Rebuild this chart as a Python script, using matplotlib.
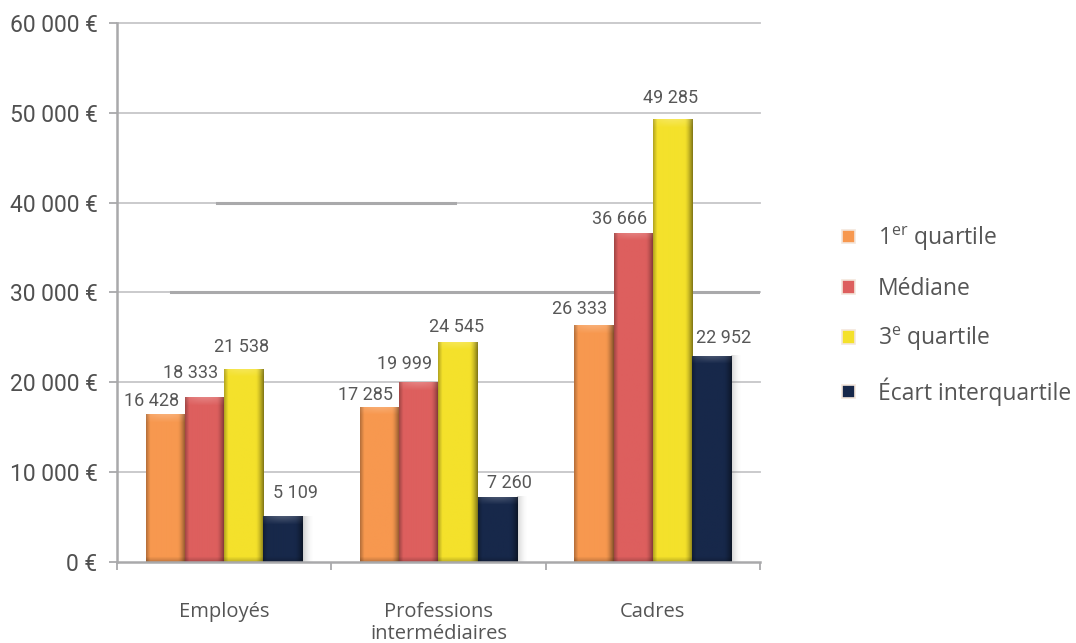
import numpy as np
import matplotlib
matplotlib.use("Agg")
import matplotlib.pyplot as plt
from matplotlib.patches import Rectangle
from matplotlib.colors import to_rgb

plt.rcParams['font.family'] = ['Roboto', 'DejaVu Sans']
plt.rcParams['mathtext.default'] = 'regular'

# ----------- DONNÉES -----------

categories = ["Employés", "Professions\nintermédiaires", "Cadres"]
series = ["1$^{er}$ quartile", "Médiane", "3$^{e}$ quartile", "Écart interquartile"]
premier_quartile = [16428, 17285, 26333]
mediane = [18333, 19999, 36666]
troisieme_quartile = [21538, 24545, 49285]
ecart_interquartile = [5109, 7260, 22952]
y_ticks = [0, 10000, 20000, 30000, 40000, 50000, 60000]

couleurs = ["#F7984F", "#DD5F5E", "#F4E12B", "#17284A"]

# décalage des étiquettes (px) : horizontal par série, vertical par barre
label_dx = [-14, -14, -2, 12]
label_dy = [[13, 12, 16], [24, 18, 14], [22, 15, 21], [23, 14, 18]]

valeurs = [premier_quartile, mediane, troisieme_quartile, ecart_interquartile]


def fmt(v):
    return f"{v:,.0f}".replace(",", " ")


def relief(ax, patch, couleur):
    """Dégradé en relief plaqué sur une barre."""
    x0, y0 = patch.get_x(), patch.get_y()
    w, h = patch.get_width(), patch.get_height()
    p0 = ax.transData.transform((x0, y0))
    p1 = ax.transData.transform((x0 + w, y0 + h))
    nx = max(int(round(p1[0] - p0[0])), 2)
    ny = max(int(round(p1[1] - p0[1])), 2)
    u = np.linspace(0, 1, nx)
    # bords gauche / droit assombris
    horiz = 1 - 0.25 * np.clip((0.10 - u) / 0.10, 0, 1) - 0.45 * np.clip((u - 0.80) / 0.20, 0, 1) ** 1.5
    rows = np.arange(ny)
    # biseau en haut, léger assombrissement en bas
    haut = np.clip((8 - rows) / 8, 0, 1)
    bas = np.clip((rows - (ny - 6)) / 6, 0, 1)
    base = np.array(to_rgb(couleur))
    img = base[None, None, :] * horiz[None, :, None]
    img = img * (1 - 0.25 * bas[:, None, None])
    img = img + (1 - img) * (0.22 * haut[:, None, None]) * (0.4 + 0.6 * np.sin(np.pi * u)[None, :, None])
    im = ax.imshow(np.clip(img, 0, 1), extent=(x0, x0 + w, y0, y0 + h), origin='upper',
                   aspect='auto', interpolation='bilinear', zorder=3)
    im.set_clip_path(patch)


def ombre(ax, x0, hauteur):
    """Ombre douce à droite d'un groupe de barres."""
    p = ax.transData.transform((x0, 0))
    largeur = ax.transData.inverted().transform((p[0] + 12, 0))[0] - x0
    u = np.linspace(0, 1, 32)
    rgba = np.zeros((2, 32, 4))
    rgba[..., :3] = 0.35
    rgba[..., 3] = 0.28 * (1 - u) ** 2
    ax.imshow(rgba, extent=(x0, x0 + largeur, 0, hauteur), aspect='auto', zorder=1.5,
              interpolation='bilinear')


# ----------- FIGURE -----------

fig = plt.figure(figsize=(10.76, 6.43), dpi=100)
ax = fig.add_axes([117 / 1076, 1 - 562 / 643, 643 / 1076, 539 / 643])
ax.set_xlim(-0.5, 2.5)
ax.set_ylim(0, 60000)

x = np.arange(len(categories))
largeur = 0.183
gris = "#a9a9ab"

for y in y_ticks[1:]:
    ax.axhline(y, color="#c6c6c8", lw=1.3, zorder=1, clip_on=False)
# segments plus marqués sur certaines lignes
ax.axhline(40000, xmin=(217 - 117) / 643, xmax=(455 - 117) / 643, color=gris, lw=2.2, zorder=1.2)
ax.axhline(30000, xmin=(171 - 117) / 643, xmax=1, color=gris, lw=2.2, zorder=1.2)

handles = []
for i, (vals, c) in enumerate(zip(valeurs, couleurs)):
    pos = x + (i - 1.5) * largeur
    bars = ax.bar(pos, vals, largeur, color=c, zorder=2, label=series[i])
    for b in bars:
        relief(ax, b, c)
    for j, (p, v) in enumerate(zip(pos, vals)):
        ax.annotate(fmt(v), xy=(p, v), xytext=(label_dx[i] * 0.72, label_dy[i][j] * 0.72),
                    textcoords='offset points', ha='center', va='center',
                    fontsize=13, color="#575757", zorder=5)
    handles.append(Rectangle((0, 0), 1, 1, facecolor=c, edgecolor="#f3e6dc", lw=1.2))

for j in range(len(categories)):
    ombre(ax, x[j] + 1.5 * largeur + largeur / 2, ecart_interquartile[j])

ax.set_xlim(-0.5, 2.5)
ax.set_ylim(0, 60000)

# axes
for s in ["top", "right"]:
    ax.spines[s].set_visible(False)
for s in ["left", "bottom"]:
    ax.spines[s].set_color(gris)
    ax.spines[s].set_linewidth(1.8)
    ax.spines[s].set_zorder(4)

ax.set_yticks(y_ticks)
ax.set_yticklabels([fmt(v) + " €" for v in y_ticks])
ax.tick_params(axis='y', length=6, width=1.3, color=gris, pad=8, labelsize=16.5, labelcolor="#505050")

ax.set_xticks(x)
ax.set_xticklabels(categories, linespacing=1.12, family=['Open Sans', 'DejaVu Sans'])
ax.set_xticks(np.arange(-0.5, 3, 1), minor=True)
ax.tick_params(axis='x', which='major', length=0, pad=29, labelsize=14.5, labelcolor="#555555")
ax.tick_params(axis='x', which='minor', length=6, width=1.3, color=gris)

leg = fig.legend(handles, series, loc='center left', bbox_to_anchor=(831 / 1076, 1 - 315 / 643),
                 frameon=False, labelcolor="#555555", handlelength=0.55, handleheight=0.55,
                 handletextpad=1.0, labelspacing=1.05, borderpad=0,
                 prop={'family': ['Open Sans', 'DejaVu Sans'], 'size': 16.5})

fig.savefig("out.png", dpi=100, facecolor="white")
